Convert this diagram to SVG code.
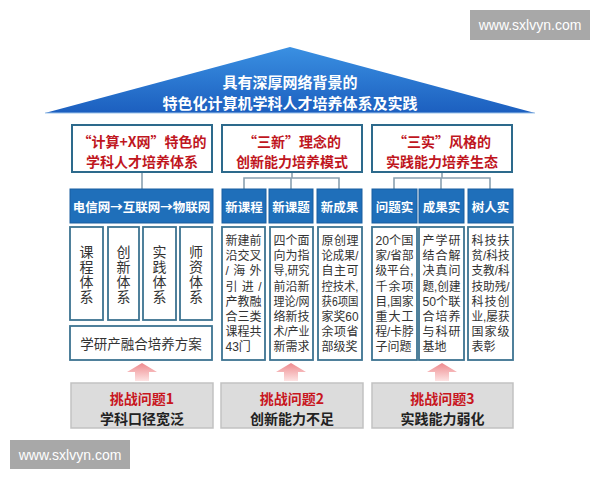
<svg xmlns="http://www.w3.org/2000/svg" width="600" height="480" viewBox="0 0 600 480">
<defs>
<linearGradient id="roofG" x1="0" y1="0" x2="0" y2="1">
<stop offset="0" stop-color="#3a90e2"/>
<stop offset="1" stop-color="#1c5fbf"/>
</linearGradient>
<linearGradient id="arrG" x1="0" y1="0" x2="0" y2="1">
<stop offset="0" stop-color="#ee8a8e"/>
<stop offset="1" stop-color="#fde3e3"/>
</linearGradient>
<style>
text{font-family:"Noto Sans CJK SC","Liberation Sans",sans-serif;dominant-baseline:central}
.title{fill:#fff;font-size:15px;font-weight:700;text-anchor:middle}
.hdr{fill:#fff;stroke:#2d6a8c;stroke-width:2}
.hdrt{fill:#c0161e;font-size:14px;font-weight:700;text-anchor:middle}
.blue{fill:#1f6fba;stroke:#1a5f9f;stroke-width:1}
.bluet{fill:#fff;font-size:12.5px;font-weight:700;text-anchor:middle}
.sub{fill:#fff;stroke:#3c7391;stroke-width:1.8}
.vt{fill:#333;font-size:14px;text-anchor:middle}
.vv{fill:#333;font-size:14px;text-anchor:middle;writing-mode:vertical-rl;letter-spacing:1px}
text.st{fill:#333;font-size:12px;font-family:"Liberation Sans","Noto Sans CJK SC",sans-serif}
.conn{fill:none;stroke:#8aa0b0;stroke-width:1.6}
.chal{fill:#dcdcdc;stroke:#c2c2c2;stroke-width:1.5}
.ct1{fill:#c8161e;font-size:14px;font-weight:700;text-anchor:middle}
.ct2{fill:#222;font-size:14px;font-weight:700;text-anchor:middle}
.arr{fill:url(#arrG)}
.wm{fill:#a8a8a8}
text.wmt{fill:#fff;font-size:14px;text-anchor:middle;font-family:"Liberation Sans",sans-serif}
</style>
</defs>
<rect width="600" height="480" fill="#fff"/>

<g id="watermark-top"><rect class="wm" x="470" y="10" width="120" height="30"/><text class="wmt" x="530" y="25">www.sxlvyn.com</text></g>
<g id="watermark-bottom"><rect class="wm" x="10" y="440" width="120" height="29"/><text class="wmt" x="70" y="454.5">www.sxlvyn.com</text></g>

<g id="roof">
<polygon points="290,47 45,113 535,113" fill="url(#roofG)"/>
<line x1="45" y1="113" x2="535" y2="113" stroke="#9cc3ea" stroke-width="1"/>
<text class="title" x="290" y="81">具有深厚网络背景的</text>
<text class="title" x="290" y="102">特色化计算机学科人才培养体系及实践</text>
</g>

<g id="connectors">
<path class="conn" d="M142,172 V189"/>
<path class="conn" d="M292,172 V178 M244,189 V178 H339 V189 M291,178 V189"/>
<path class="conn" d="M442,172 V178 M394,189 V178 H490 V189 M441,178 V189"/>
</g>

<g id="col1-header"><rect class="hdr" x="72" y="125" width="140" height="47"/><text class="hdrt" x="142" y="140.5">“计算+X网”特色的</text><text class="hdrt" x="142" y="161">学科人才培养体系</text></g>
<g id="col2-header"><rect class="hdr" x="222" y="125" width="140" height="47"/><text class="hdrt" x="292" y="140.5">“三新”理念的</text><text class="hdrt" x="292" y="161">创新能力培养模式</text></g>
<g id="col3-header"><rect class="hdr" x="372" y="125" width="140" height="47"/><text class="hdrt" x="442" y="140.5">“三实”风格的</text><text class="hdrt" x="442" y="161">实践能力培养生态</text></g>

<g id="col1-bar"><rect class="blue" x="70" y="189" width="143" height="34"/><text class="bluet" x="141.5" y="206">电信网→互联网→物联网</text></g>

<g id="col1-sub1"><rect class="sub" x="70" y="227" width="33" height="93"/><text class="vv" x="86.5" y="275">课程体系</text></g>
<g id="col1-sub2"><rect class="sub" x="108" y="227" width="31" height="93"/><text class="vv" x="123.5" y="275">创新体系</text></g>
<g id="col1-sub3"><rect class="sub" x="143" y="227" width="33" height="93"/><text class="vv" x="159.5" y="275">实践体系</text></g>
<g id="col1-sub4"><rect class="sub" x="180" y="227" width="32" height="93"/><text class="vv" x="196" y="275">师资体系</text></g>
<g id="col1-plan"><rect class="sub" x="70" y="326" width="142" height="34"/><text class="vt" x="141" y="343" style="font-size:13.5px">学研产融合培养方案</text></g>

<g id="col2-b1"><rect class="blue" x="222" y="189" width="44" height="34"/><text class="bluet" x="244" y="206">新课程</text></g>
<g id="col2-b2"><rect class="blue" x="269" y="189" width="44" height="34"/><text class="bluet" x="291" y="206">新课题</text></g>
<g id="col2-b3"><rect class="blue" x="317" y="189" width="45" height="34"/><text class="bluet" x="339.5" y="206">新成果</text></g>

<g id="col3-b1"><rect class="blue" x="372" y="189" width="45" height="34"/><text class="bluet" x="394.5" y="206">问题实</text></g>
<g id="col3-b2"><rect class="blue" x="419" y="189" width="45" height="34"/><text class="bluet" x="441.5" y="206">成果实</text></g>
<g id="col3-b3"><rect class="blue" x="468" y="189" width="45" height="34"/><text class="bluet" x="490.5" y="206">树人实</text></g>

<g id="col2-t1"><rect class="sub" x="222" y="227" width="43" height="133"/>
<text class="st" x="225.5" y="241" textLength="36">新建前</text>
<text class="st" x="225.5" y="256" textLength="36">沿交叉</text>
<text class="st" x="225.5" y="271" textLength="36">/海外</text>
<text class="st" x="225.5" y="287" textLength="36">引进/</text>
<text class="st" x="225.5" y="302" textLength="36">产教融</text>
<text class="st" x="225.5" y="317" textLength="36">合三类</text>
<text class="st" x="225.5" y="332" textLength="36">课程共</text>
<text class="st" x="225.5" y="347">43门</text></g>
<g id="col2-t2"><rect class="sub" x="270" y="227" width="43" height="133"/>
<text class="st" x="273.5" y="241" textLength="36">四个面</text>
<text class="st" x="273.5" y="256" textLength="36">向为指</text>
<text class="st" x="273.5" y="271" textLength="36" lengthAdjust="spacingAndGlyphs">导,研究</text>
<text class="st" x="273.5" y="287" textLength="36">前沿新</text>
<text class="st" x="273.5" y="302" textLength="36" lengthAdjust="spacingAndGlyphs">理论/网</text>
<text class="st" x="273.5" y="317" textLength="36">络新技</text>
<text class="st" x="273.5" y="332" textLength="36" lengthAdjust="spacingAndGlyphs">术/产业</text>
<text class="st" x="273.5" y="347">新需求</text></g>
<g id="col2-t3"><rect class="sub" x="318" y="227" width="44" height="133"/>
<text class="st" x="321.5" y="241" textLength="37">原创理</text>
<text class="st" x="321.5" y="256" textLength="37" lengthAdjust="spacingAndGlyphs">论成果/</text>
<text class="st" x="321.5" y="271" textLength="37">自主可</text>
<text class="st" x="321.5" y="287" textLength="37" lengthAdjust="spacingAndGlyphs">控技术,</text>
<text class="st" x="321.5" y="302" textLength="37" lengthAdjust="spacingAndGlyphs">获6项国</text>
<text class="st" x="321.5" y="317" textLength="37" lengthAdjust="spacingAndGlyphs">家奖60</text>
<text class="st" x="321.5" y="332" textLength="37">余项省</text>
<text class="st" x="321.5" y="347">部级奖</text></g>

<g id="col3-t1"><rect class="sub" x="372" y="227" width="45" height="133"/>
<text class="st" x="375.5" y="241" textLength="38" lengthAdjust="spacingAndGlyphs">20个国</text>
<text class="st" x="375.5" y="256" textLength="38" lengthAdjust="spacingAndGlyphs">家/省部</text>
<text class="st" x="375.5" y="271" textLength="38" lengthAdjust="spacingAndGlyphs">级平台,</text>
<text class="st" x="375.5" y="287" textLength="38">千余项</text>
<text class="st" x="375.5" y="302" textLength="38" lengthAdjust="spacingAndGlyphs">目,国家</text>
<text class="st" x="375.5" y="317" textLength="38">重大工</text>
<text class="st" x="375.5" y="332" textLength="38" lengthAdjust="spacingAndGlyphs">程/卡脖</text>
<text class="st" x="375.5" y="347">子问题</text></g>
<g id="col3-t2"><rect class="sub" x="419" y="227" width="45" height="133"/>
<text class="st" x="422.5" y="241" textLength="38">产学研</text>
<text class="st" x="422.5" y="256" textLength="38">结合解</text>
<text class="st" x="422.5" y="271" textLength="38">决真问</text>
<text class="st" x="422.5" y="287" textLength="38" lengthAdjust="spacingAndGlyphs">题,创建</text>
<text class="st" x="422.5" y="302" textLength="38" lengthAdjust="spacingAndGlyphs">50个联</text>
<text class="st" x="422.5" y="317" textLength="38">合培养</text>
<text class="st" x="422.5" y="332" textLength="38">与科研</text>
<text class="st" x="422.5" y="347">基地</text></g>
<g id="col3-t3"><rect class="sub" x="468" y="227" width="45" height="133"/>
<text class="st" x="471.5" y="241" textLength="38">科技扶</text>
<text class="st" x="471.5" y="256" textLength="38" lengthAdjust="spacingAndGlyphs">贫/科技</text>
<text class="st" x="471.5" y="271" textLength="38" lengthAdjust="spacingAndGlyphs">支教/科</text>
<text class="st" x="471.5" y="287" textLength="38" lengthAdjust="spacingAndGlyphs">技助残/</text>
<text class="st" x="471.5" y="302" textLength="38">科技创</text>
<text class="st" x="471.5" y="317" textLength="38" lengthAdjust="spacingAndGlyphs">业,屡获</text>
<text class="st" x="471.5" y="332" textLength="38">国家级</text>
<text class="st" x="471.5" y="347">表彰</text></g>

<g id="arrows">
<polygon class="arr" points="142,363 157,372 149,372 149,381 135,381 135,372 127,372"/>
<polygon class="arr" points="291,363 306,372 298,372 298,381 284,381 284,372 276,372"/>
<polygon class="arr" points="442,363 457,372 449,372 449,381 435,381 435,372 427,372"/>
</g>

<g id="challenge1"><rect class="chal" x="71" y="383" width="142" height="45"/><text class="ct1" x="142" y="398">挑战问题1</text><text class="ct2" x="142" y="418">学科口径宽泛</text></g>
<g id="challenge2"><rect class="chal" x="221" y="383" width="142" height="45"/><text class="ct1" x="292" y="398">挑战问题2</text><text class="ct2" x="292" y="418">创新能力不足</text></g>
<g id="challenge3"><rect class="chal" x="372" y="383" width="141" height="45"/><text class="ct1" x="442.5" y="398">挑战问题3</text><text class="ct2" x="442.5" y="418">实践能力弱化</text></g>
</svg>
